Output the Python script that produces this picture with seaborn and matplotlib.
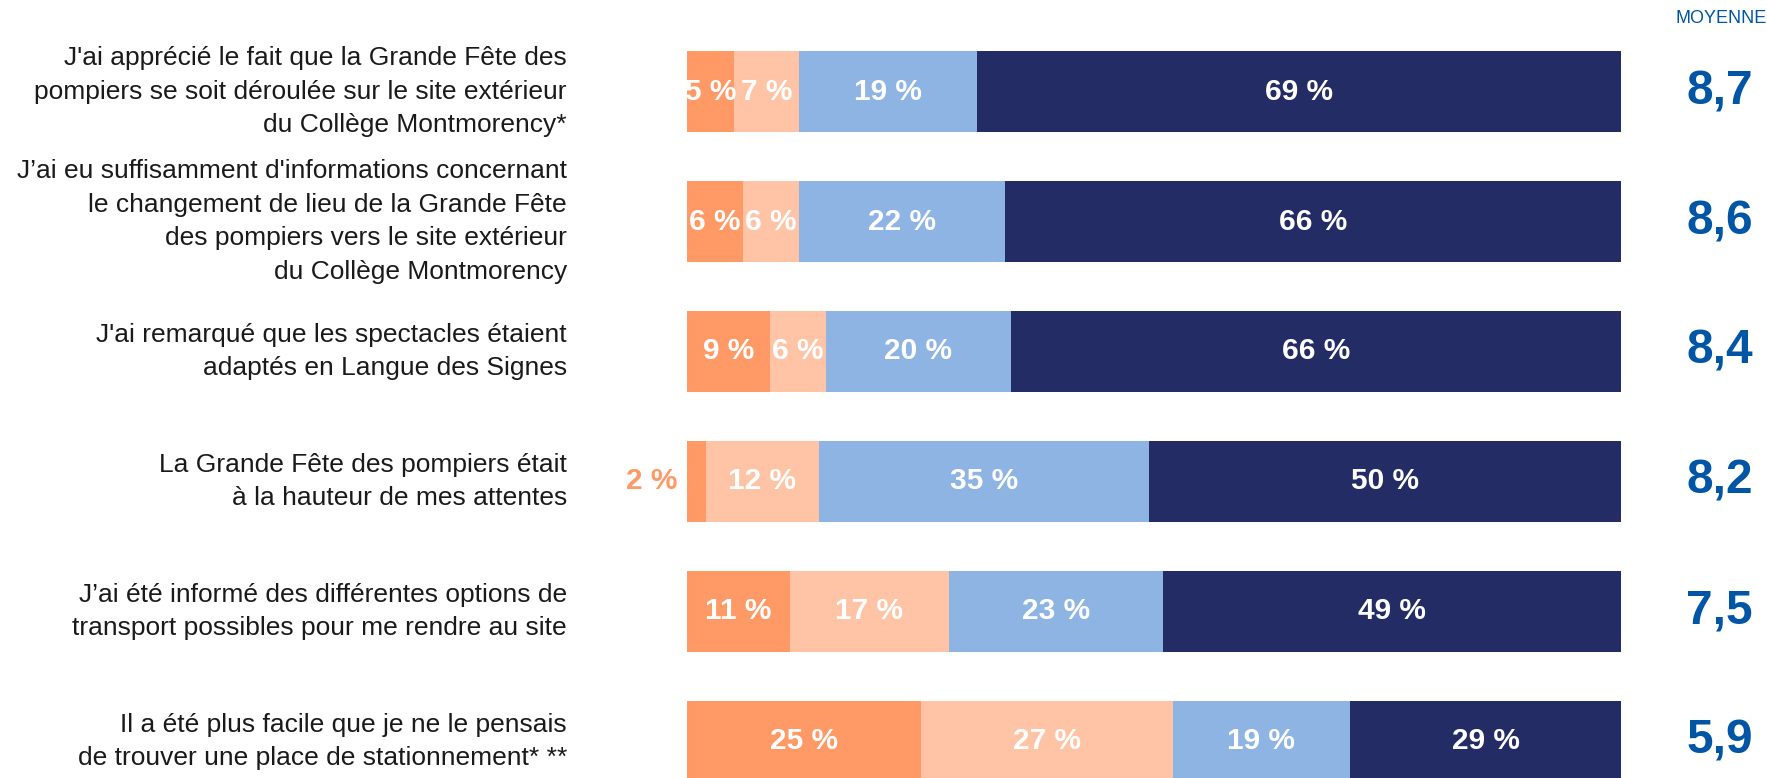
import numpy as np
import pandas as pd
import matplotlib
matplotlib.use('Agg')
import matplotlib.pyplot as plt
import seaborn as sns

sns.set_style('white')
plt.rcParams['font.family'] = ['Liberation Sans', 'DejaVu Sans']

# Data
statements = [
    "J'ai apprécié le fait que la Grande Fête des\npompiers se soit déroulée sur le site extérieur\ndu Collège Montmorency*",
    "J’ai eu suffisamment d'informations concernant\nle changement de lieu de la Grande Fête\ndes pompiers vers le site extérieur\ndu Collège Montmorency",
    "J'ai remarqué que les spectacles étaient\nadaptés en Langue des Signes",
    "La Grande Fête des pompiers était\nà la hauteur de mes attentes",
    "J’ai été informé des différentes options de\ntransport possibles pour me rendre au site",
    "Il a été plus facile que je ne le pensais\nde trouver une place de stationnement* **",
]
pct_low = [5, 6, 9, 2, 11, 25]
pct_midlow = [7, 6, 6, 12, 17, 27]
pct_midhigh = [19, 22, 20, 35, 23, 19]
pct_high = [69, 66, 66, 50, 49, 29]
averages = ['8,7', '8,6', '8,4', '8,2', '7,5', '5,9']

colors = ['#FF9966', '#FFC3A6', '#8DB4E2', '#232C64']
avg_color = '#0055A5'

df = pd.DataFrame({'statement': statements, 'low': pct_low, 'midlow': pct_midlow,
                   'midhigh': pct_midhigh, 'high': pct_high})
cols = ['low', 'midlow', 'midhigh', 'high']
totals = df[cols].sum(axis=1)
norm = df[cols].div(totals, axis=0) * 100
cum = norm.cumsum(axis=1)

W, H = 1767, 778
fig = plt.figure(figsize=(W / 100, H / 100), dpi=100)
x0, x1 = 687, 1621
ax = fig.add_axes([x0 / W, 0, (x1 - x0) / W, 1])

# stacked bars: draw cumulative totals from the last segment backwards
for c, col in reversed(list(zip(colors, cols))):
    sns.barplot(x=cum[col], y=df['statement'], color=c, orient='h',
                width=0.623, linewidth=0, saturation=1, ax=ax)

ax.set_xlim(0, 100)
ax.set_ylim(5.281, -0.704)
ax.set_xlabel('')
ax.set_ylabel('')
ax.set_xticks([])
ax.set_yticks([])
sns.despine(ax=ax, left=True, bottom=True)

# statement labels on the left
for i, s in enumerate(statements):
    ax.text(-12.85, i, s, ha='right', va='center', ma='right',
            fontsize=19, color='#1a1a1a', linespacing=1.5, clip_on=False)

# percent labels
for i in range(len(df)):
    start = 0
    for j, col in enumerate(cols):
        v = df.loc[i, col]
        w = norm.loc[i, col]
        if v < 4:
            ax.text(-1, i, f'{v} %', ha='right', va='center', color=colors[0],
                    fontsize=21.5, fontweight='bold', clip_on=False)
        else:
            ax.text(start + w / 2, i, f'{v} %', ha='center', va='center',
                    color='white', fontsize=21.5, fontweight='bold')
        start += w
    ax.text(114.1, i, averages[i], ha='right', va='center', color=avg_color,
            fontsize=34.5, fontweight='bold', clip_on=False)

ax.text(115.6, -0.558, 'MOYENNE', ha='right', va='center', color=avg_color,
        fontsize=13, clip_on=False)

fig.savefig('out.png', dpi=100)
